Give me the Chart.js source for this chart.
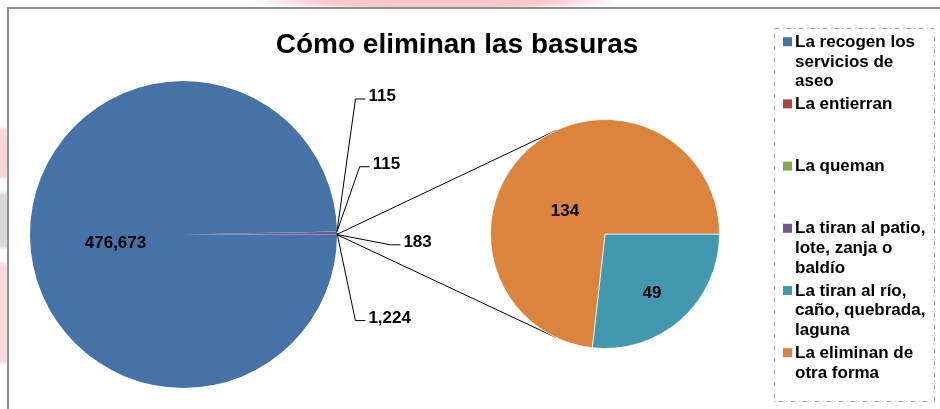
<!DOCTYPE html>
<html><head><meta charset="utf-8">
<script src="https://cdn.jsdelivr.net/npm/chart.js@4.4.0/dist/chart.umd.min.js"></script>
<style>
html,body{margin:0;padding:0;background:#fff;}
#wrap{position:relative;width:940px;height:409px;overflow:hidden;background:#fff;}
.deco{position:absolute;}
#frame{position:absolute;left:7px;top:7px;width:980px;height:440px;border-left:2px solid #8e8e8e;border-top:2px solid #8e8e8e;background:#fff;}
canvas{position:absolute;left:0;top:0;}
</style></head>
<body><div id="wrap">
<div class="deco" style="left:250px;top:-14px;width:370px;height:26px;border-radius:50%;background:radial-gradient(ellipse at center,#ffc6d0 45%,rgba(255,210,218,0) 72%);"></div>
<div class="deco" style="left:-6px;top:128px;width:14px;height:50px;background:#ffd3db;filter:blur(1.5px);"></div>
<div class="deco" style="left:-6px;top:193px;width:14px;height:55px;background:#d9d9d9;filter:blur(1.5px);"></div>
<div class="deco" style="left:-6px;top:263px;width:14px;height:100px;background:#ffd6dd;filter:blur(1.5px);"></div>
<div id="frame"></div>
<canvas id="c1" width="940" height="409"></canvas>
<canvas id="c2" width="940" height="409"></canvas>
</div>
<script>
// ---- data ----
const chartTitle = 'Cómo eliminan las basuras';
const categories = [
  ['La recogen los', 'servicios de', 'aseo'],
  ['La entierran'],
  ['La queman'],
  ['La tiran al patio,', 'lote, zanja o', 'baldío'],
  ['La tiran al río,', 'caño, quebrada,', 'laguna'],
  ['La eliminan de', 'otra forma']
];
const values = [476673, 115, 115, 1224, 49, 134];
const colors = ['#4572A7', '#AA4643', '#89A54E', '#71588F', '#4198AF', '#DB843D'];
const splitCount = 2; // last two categories go to the secondary pie

// ---- derived ----
const fmt = v => v.toLocaleString('en-US');
const mainValues = values.slice(0, values.length - splitCount);
const subValues = values.slice(values.length - splitCount);
const otherTotal = subValues.reduce((a, b) => a + b, 0);
mainValues.push(otherTotal);
const mainColors = colors.slice(0, values.length - splitCount).concat(['#4572A7']);
const subColors = colors.slice(values.length - splitCount);
const mainTotal = mainValues.reduce((a, b) => a + b, 0);
// rotate so the "other" slice is centred at 3 o'clock
let mainRotation = 90 - 360 * (mainTotal - otherTotal / 2) / mainTotal;
mainRotation = ((mainRotation % 360) + 360) % 360;

// ---- styling / placement (not data) ----
const FONT = '"Liberation Sans", Arial, Helvetica, sans-serif';
const insideLabelPos = { 0: [-0.443, 0.09] };           // main pie, fraction of radius, baseline
const subLabelPos = [[0.41, 0.559], [-0.35, -0.159]];    // secondary pie
const leaderElbow = { 1: [18.5, -132.5], 2: [22.7, -65], 3: [18.4, 87.5], 4: [53.4, 10.3] };

function outerPoint(arc, ang) {
  const p = arc.getProps(['x', 'y', 'outerRadius']);
  return [p.x + Math.cos(ang) * p.outerRadius, p.y + Math.sin(ang) * p.outerRadius];
}

const mainDecor = {
  id: 'mainDecor',
  afterDraw(chart) {
    const ctx = chart.ctx;
    ctx.save();
    // title
    ctx.fillStyle = '#000';
    ctx.font = 'bold 28px ' + FONT;
    ctx.textAlign = 'center';
    ctx.textBaseline = 'alphabetic';
    ctx.fillText(chartTitle, 457, 53);

    const meta = chart.getDatasetMeta(0);
    ctx.font = 'bold 17px ' + FONT;
    // inside label(s)
    Object.keys(insideLabelPos).forEach(k => {
      const arc = meta.data[k];
      const p = arc.getProps(['x', 'y', 'outerRadius']);
      const f = insideLabelPos[k];
      ctx.textAlign = 'center';
      ctx.fillText(fmt(mainValues[k]), p.x + f[0] * p.outerRadius, p.y + f[1] * p.outerRadius);
    });
    // leader labels
    ctx.strokeStyle = '#000';
    ctx.lineWidth = 1;
    Object.keys(leaderElbow).forEach(k => {
      const arc = meta.data[k];
      const a = arc.getProps(['startAngle', 'endAngle']);
      const mid = (a.startAngle + a.endAngle) / 2;
      const [px, py] = outerPoint(arc, mid);
      const ex = px + leaderElbow[k][0], ey = py + leaderElbow[k][1];
      ctx.beginPath();
      ctx.moveTo(px, py);
      ctx.lineTo(ex, ey);
      ctx.lineTo(ex + 10, ey);
      ctx.stroke();
      ctx.textAlign = 'left';
      ctx.fillText(fmt(mainValues[k]), ex + 13, ey + 2.5);
    });

    // legend
    const lx = 774.5, ly = 28.5, lw = 160, lh = 373;
    ctx.setLineDash([5, 3, 1, 3]);
    ctx.strokeStyle = '#a6a6a6';
    ctx.strokeRect(lx, ly, lw, lh);
    ctx.setLineDash([]);
    ctx.textAlign = 'left';
    categories.forEach((lines, i) => {
      const base = 46.7 + i * 62.2;
      ctx.fillStyle = colors[i];
      ctx.fillRect(783, base - 9.5, 9, 9);
      ctx.fillStyle = '#000';
      lines.forEach((t, j) => ctx.fillText(t, 795, base + j * 19.8));
    });
    ctx.restore();
  }
};

const mainChart = new Chart(document.getElementById('c1'), {
  type: 'pie',
  data: {
    labels: ['La recogen los servicios de aseo', 'La entierran', 'La queman', 'La tiran al patio, lote, zanja o baldío', 'Otros'],
    datasets: [{ data: mainValues, backgroundColor: mainColors, borderWidth: 0 }]
  },
  options: {
    responsive: false, animation: false, devicePixelRatio: 1,
    rotation: mainRotation,
    layout: { padding: { left: 30, right: 603, top: 81, bottom: 21 } },
    plugins: { legend: { display: false }, tooltip: { enabled: false }, title: { display: false } },
    events: []
  },
  plugins: [mainDecor]
});

function tangentPoints(px, py, cx, cy, r) {
  const dx = px - cx, dy = py - cy;
  const d = Math.hypot(dx, dy);
  const base = Math.atan2(dy, dx);
  const off = Math.acos(r / d);
  return [[cx + r * Math.cos(base - off), cy + r * Math.sin(base - off)],
          [cx + r * Math.cos(base + off), cy + r * Math.sin(base + off)]];
}

const subDecor = {
  id: 'subDecor',
  beforeDatasetsDraw(chart) {
    const ctx = chart.ctx;
    const otherArc = mainChart.getDatasetMeta(0).data[mainValues.length - 1];
    const oa = otherArc.getProps(['startAngle', 'endAngle']);
    const A = outerPoint(otherArc, oa.startAngle);
    const B = outerPoint(otherArc, oa.endAngle);
    const s = chart.getDatasetMeta(0).data[0].getProps(['x', 'y', 'outerRadius']);
    const tA = tangentPoints(A[0], A[1], s.x, s.y, s.outerRadius);
    const tB = tangentPoints(B[0], B[1], s.x, s.y, s.outerRadius);
    const top = tA[0][1] < tA[1][1] ? tA[0] : tA[1];
    const bot = tB[0][1] > tB[1][1] ? tB[0] : tB[1];
    ctx.save();
    ctx.strokeStyle = '#000';
    ctx.lineWidth = 1;
    ctx.beginPath();
    ctx.moveTo(A[0], A[1]); ctx.lineTo(top[0], top[1]);
    ctx.moveTo(B[0], B[1]); ctx.lineTo(bot[0], bot[1]);
    ctx.stroke();
    ctx.restore();
  },
  afterDatasetsDraw(chart) {
    const ctx = chart.ctx;
    const meta = chart.getDatasetMeta(0);
    ctx.save();
    ctx.fillStyle = '#000';
    ctx.font = 'bold 17px ' + FONT;
    ctx.textAlign = 'center';
    ctx.textBaseline = 'alphabetic';
    meta.data.forEach((arc, i) => {
      const p = arc.getProps(['x', 'y', 'outerRadius']);
      const f = subLabelPos[i];
      ctx.fillText(fmt(subValues[i]), p.x + f[0] * p.outerRadius, p.y + f[1] * p.outerRadius);
    });
    ctx.restore();
  }
};

new Chart(document.getElementById('c2'), {
  type: 'pie',
  data: {
    labels: ['La tiran al río, caño, quebrada, laguna', 'La eliminan de otra forma'],
    datasets: [{ data: subValues, backgroundColor: subColors, borderWidth: 1, borderColor: 'rgba(255,255,255,0.7)' }]
  },
  options: {
    responsive: false, animation: false, devicePixelRatio: 1,
    rotation: 90,
    layout: { padding: { left: 490, right: 220, top: 119, bottom: 60 } },
    plugins: { legend: { display: false }, tooltip: { enabled: false }, title: { display: false } },
    events: []
  },
  plugins: [subDecor]
});
</script>
</body></html>
